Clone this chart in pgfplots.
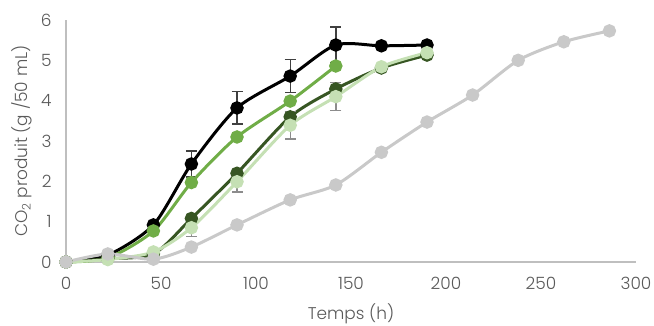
\documentclass[border=0pt]{standalone}
\usepackage{pgfplots}
\pgfplotsset{compat=1.18}
\usepackage{fontspec}
\setmainfont{Poppins Light}
\definecolor{txt}{HTML}{595959}
\definecolor{axc}{HTML}{BFBFBF}
\definecolor{cblack}{HTML}{000000}
\definecolor{cmed}{HTML}{70AD47}
\definecolor{cdark}{HTML}{375623}
\definecolor{cpale}{HTML}{C5E0B4}
\definecolor{cgray}{HTML}{C9C9C9}
\definecolor{errdark}{HTML}{404040}
\definecolor{errlight}{HTML}{8C8C8C}
\begin{document}
\begin{tikzpicture}
\path[use as bounding box] (-66bp,-64bp) rectangle (588bp,262bp);
\begin{axis}[
  scale only axis, width=570bp, height=242bp,
  xmin=0, xmax=300, ymin=0, ymax=6,
  axis lines=left, axis line style={axc, line width=1.3bp, -},
  xtick={0,50,...,300}, ytick={0,1,...,6},
  major tick length=0pt,
  tick label style={font=\fontsize{17}{20}\selectfont, text=txt},
  /pgf/number format/assume math mode=true,
  xticklabel style={yshift=-12bp},
  yticklabel style={xshift=-11bp},
  xlabel={Temps (h)}, ylabel={CO\textsubscript{2} produit (g /50 mL)},
  label style={font=\fontsize{17}{20}\selectfont, text=txt},
  xlabel style={at={(rel axis cs:0.5,0)}, anchor=north, yshift=-38bp},
  ylabel style={at={(axis description cs:-0.077,0.5)}, anchor=center},
  clip=false,
  every axis plot/.append style={line width=3bp, smooth, tension=0.45, mark=*, mark size=5.2bp},
]
% black
\addplot[cblack, mark options={fill=cblack, draw=cblack},
  error bars/.cd, y dir=both, y explicit,
  error bar style={errdark, line width=1.4bp},
  error mark options={errdark, line width=1.4bp, mark size=5.5bp, rotate=90}]
coordinates {
(0,0) +- (0,0)
(22,0.17) +- (0,0)
(46,0.92) +- (0,0)
(66,2.43) +- (0,0.32)
(90,3.82) +- (0,0.4)
(118,4.61) +- (0,0.41)
(142,5.38) +- (0,0.45)
(166,5.36) +- (0,0)
(190,5.38) +- (0,0)
};
% medium green
\addplot[cmed, mark options={fill=cmed, draw=cmed}] coordinates {
(0,0) (22,0.1) (46,0.77) (66,1.97) (90,3.1) (118,3.99) (142,4.86)
};
% dark green
\addplot[cdark, mark options={fill=cdark, draw=cdark}] coordinates {
(0,0) (22,0.08) (46,0.2) (66,1.08) (90,2.2) (118,3.6) (142,4.29) (166,4.81) (190,5.13)
};
% pale green
\addplot[cpale, mark options={fill=cpale, draw=cpale},
  error bars/.cd, y dir=both, y explicit,
  error bar style={errlight, line width=1.4bp},
  error mark options={errlight, line width=1.4bp, mark size=5.5bp, rotate=90}]
coordinates {
(0,0) +- (0,0)
(22,0.06) +- (0,0)
(46,0.25) +- (0,0)
(66,0.85) +- (0,0.22)
(90,1.99) +- (0,0.25)
(118,3.39) +- (0,0.34)
(142,4.1) +- (0,0.35)
(166,4.84) +- (0,0)
(190,5.19) +- (0,0)
};
% gray
\addplot[cgray, mark options={fill=cgray, draw=cgray}] coordinates {
(0,0) (22,0.2) (46,0.07) (66,0.37) (90,0.92) (118,1.54) (142,1.91) (166,2.72) (190,3.47) (214,4.14) (238,5.0) (262,5.46) (286,5.73)
};
\end{axis}
\end{tikzpicture}
\end{document}
